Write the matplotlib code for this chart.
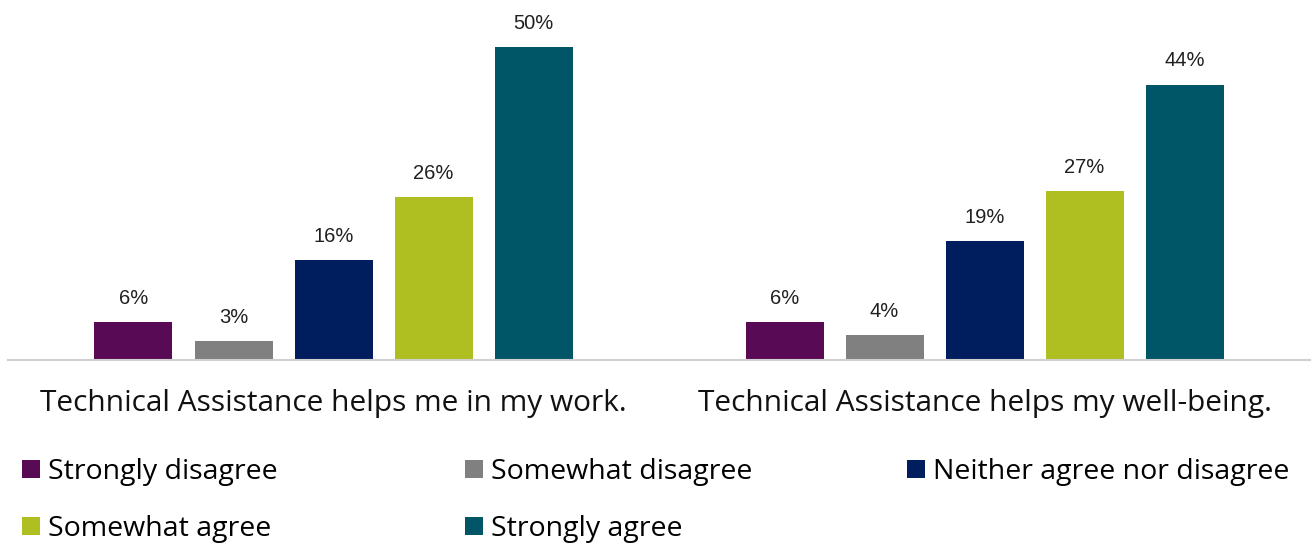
import matplotlib.pyplot as plt
import numpy as np

# survey results, percent
questions = ["Technical Assistance helps me in my work.",
             "Technical Assistance helps my well-being."]
responses = ["Strongly disagree", "Somewhat disagree", "Neither agree nor disagree",
             "Somewhat agree", "Strongly agree"]
work = [6, 3, 16, 26, 50]
wellbeing = [6, 4, 19, 27, 44]
colors = ["#580A55", "#808080", "#001E5E", "#AFBE21", "#005567"]

W, H = 1316, 544
fig = plt.figure(figsize=(W / 100, H / 100), dpi=100)
ax = fig.add_axes([8 / W, 1 - 360 / H, 1302 / W, 344 / H])

x = np.arange(len(questions))
step = 100 / 651
width = 78 / 651
handles = []
for i, (resp, col) in enumerate(zip(responses, colors)):
    vals = [work[i], wellbeing[i]]
    pos = x + (i - 2) * step
    bars = ax.bar(pos, vals, width, color=col, label=resp)
    handles.append(bars)
    for b, v in zip(bars, vals):
        ax.text(b.get_x() + b.get_width() / 2, v + 2.3, f"{v}%", ha="center", va="bottom",
                fontsize=14.5, family="Liberation Sans", color="#202020")

ax.set_xlim(-0.5, 1.5)
ax.set_ylim(0, 55)
ax.set_xticks(x)
ax.set_xticklabels(questions, fontsize=21.5, family="Open Sans", color="#111111")
ax.tick_params(axis="x", length=0, pad=21)
ax.set_yticks([])
for s in ["top", "left", "right"]:
    ax.spines[s].set_visible(False)
ax.spines["bottom"].set_color("#D0D0D0")
ax.spines["bottom"].set_linewidth(1.5)

# legend: one entry per slot, three per row
slots = [(22, 472), (465, 472), (907, 472), (22, 529), (465, 529)]
for h, resp, (lx, ly) in zip(handles, responses, slots):
    leg = fig.legend([h], [resp], loc="center left", bbox_to_anchor=(lx / W, 1 - ly / H),
                     frameon=False, prop={"family": "Open Sans", "size": 20.5},
                     borderpad=0, borderaxespad=0, handlelength=0.63, handleheight=0.63,
                     handletextpad=0.3)

fig.savefig("out.png", dpi=100)
